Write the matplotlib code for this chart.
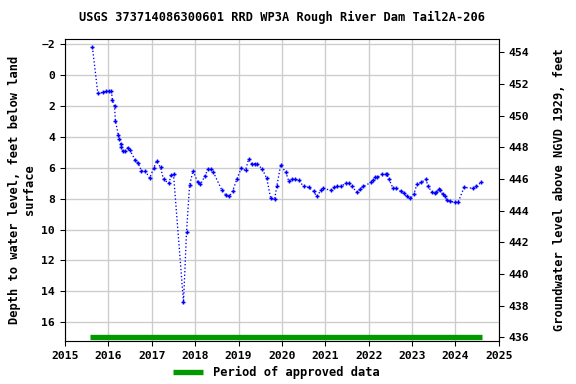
import numpy as np
import matplotlib.pyplot as plt

# Water level observations (decimal year, depth below land surface in ft)
years = np.array([
    2015.63, 2015.755, 2015.88, 2015.94, 2016.02, 2016.07, 2016.09, 2016.14, 2016.16,
    2016.23, 2016.25, 2016.29, 2016.30, 2016.33, 2016.39, 2016.44, 2016.49, 2016.62,
    2016.69, 2016.76, 2016.85, 2016.95, 2017.04, 2017.11, 2017.20, 2017.27, 2017.39,
    2017.45, 2017.50, 2017.73, 2017.80, 2017.87, 2017.95, 2018.06, 2018.12, 2018.22,
    2018.29, 2018.36, 2018.42, 2018.61, 2018.70, 2018.79, 2018.86, 2018.96, 2019.06,
    2019.16, 2019.23, 2019.30, 2019.37, 2019.43, 2019.55, 2019.65, 2019.74, 2019.83,
    2019.88, 2019.97, 2020.09, 2020.16, 2020.24, 2020.31, 2020.39, 2020.50, 2020.62,
    2020.73, 2020.80, 2020.90, 2020.94, 2021.13, 2021.21, 2021.27, 2021.36, 2021.47,
    2021.54, 2021.61, 2021.73, 2021.80, 2021.88, 2022.05, 2022.10, 2022.14, 2022.20,
    2022.30, 2022.40, 2022.42, 2022.47, 2022.56, 2022.63, 2022.74, 2022.81, 2022.88,
    2022.95, 2023.04, 2023.11, 2023.21, 2023.32, 2023.37, 2023.46, 2023.53, 2023.56,
    2023.62, 2023.64, 2023.71, 2023.75, 2023.81, 2023.88, 2023.99, 2024.06, 2024.20,
    2024.41, 2024.48, 2024.59,
])
depth = np.array([
    -1.80, 1.19, 1.12, 1.06, 1.06, 1.06, 1.62, 2.03, 2.96,
    3.91, 4.12, 4.49, 4.64, 4.92, 4.92, 4.71, 4.84, 5.53,
    5.72, 6.21, 6.21, 6.67, 6.04, 5.57, 5.98, 6.75, 7.01,
    6.47, 6.43, 14.71, 10.16, 7.14, 6.19, 6.95, 7.08, 6.56,
    6.11, 6.11, 6.30, 7.42, 7.75, 7.85, 7.53, 6.75, 6.04,
    6.17, 5.46, 5.74, 5.74, 5.74, 6.11, 6.69, 7.98, 8.05,
    7.21, 5.83, 6.30, 6.88, 6.75, 6.75, 6.82, 7.21, 7.27,
    7.53, 7.85, 7.46, 7.33, 7.46, 7.27, 7.21, 7.21, 7.01,
    7.01, 7.21, 7.59, 7.40, 7.21, 6.95, 6.82, 6.62, 6.62,
    6.43, 6.43, 6.43, 6.75, 7.33, 7.33, 7.53, 7.66, 7.85,
    7.98, 7.72, 7.08, 6.95, 6.75, 7.21, 7.59, 7.66, 7.59,
    7.40, 7.46, 7.72, 7.85, 8.11, 8.17, 8.24, 8.24, 7.27,
    7.33, 7.21, 6.95,
])

approved_start = 2015.58
approved_end = 2024.62
approved_depth = 16.93

mono = 'DejaVu Sans Mono'
plt.rcParams['font.family'] = mono
plt.rcParams['font.weight'] = 'bold'

fig = plt.figure(figsize=(6, 4), dpi=96)
ax = fig.add_axes([0.113, 0.112, 0.753, 0.786])

ax.plot(years, depth, color='blue', linestyle=':', linewidth=1.0,
        marker='+', markersize=3.5, markeredgewidth=1.1)
ax.plot([approved_start, approved_end], [approved_depth, approved_depth],
        color='#009900', linewidth=4, solid_capstyle='butt',
        label='Period of approved data')

ax.set_xlim(2015, 2025)
ax.set_ylim(17.21, -2.32)
ax.set_xticks(np.arange(2015, 2026, 1))
ax.set_yticks(np.arange(-2, 17, 2))
ax.grid(True, color='#cccccc', linewidth=1)
ax.set_axisbelow(True)
ax.tick_params(labelsize=8.5, length=4)
for lbl in ax.get_xticklabels() + ax.get_yticklabels():
    lbl.set_fontweight('bold')
ax.set_ylabel('Depth to water level, feet below land\nsurface', fontsize=9, fontweight='bold')

ax2 = ax.twinx()
ax2.set_ylim(435.77, 454.84)
ax2.set_yticks(np.arange(436, 455, 2))
ax2.tick_params(labelsize=8.5, length=4)
for lbl in ax2.get_yticklabels():
    lbl.set_fontweight('bold')
ax2.set_ylabel('Groundwater level above NGVD 1929, feet', fontsize=9, fontweight='bold',
               labelpad=18)

ax.set_title('USGS 373714086300601 RRD WP3A Rough River Dam Tail2A-206',
             fontsize=9, fontweight='bold', pad=14)

fig.legend(loc='lower center', bbox_to_anchor=(0.48, -0.015), frameon=False,
           fontsize=9, handlelength=2.5)

fig.savefig('out.png', dpi=96)
